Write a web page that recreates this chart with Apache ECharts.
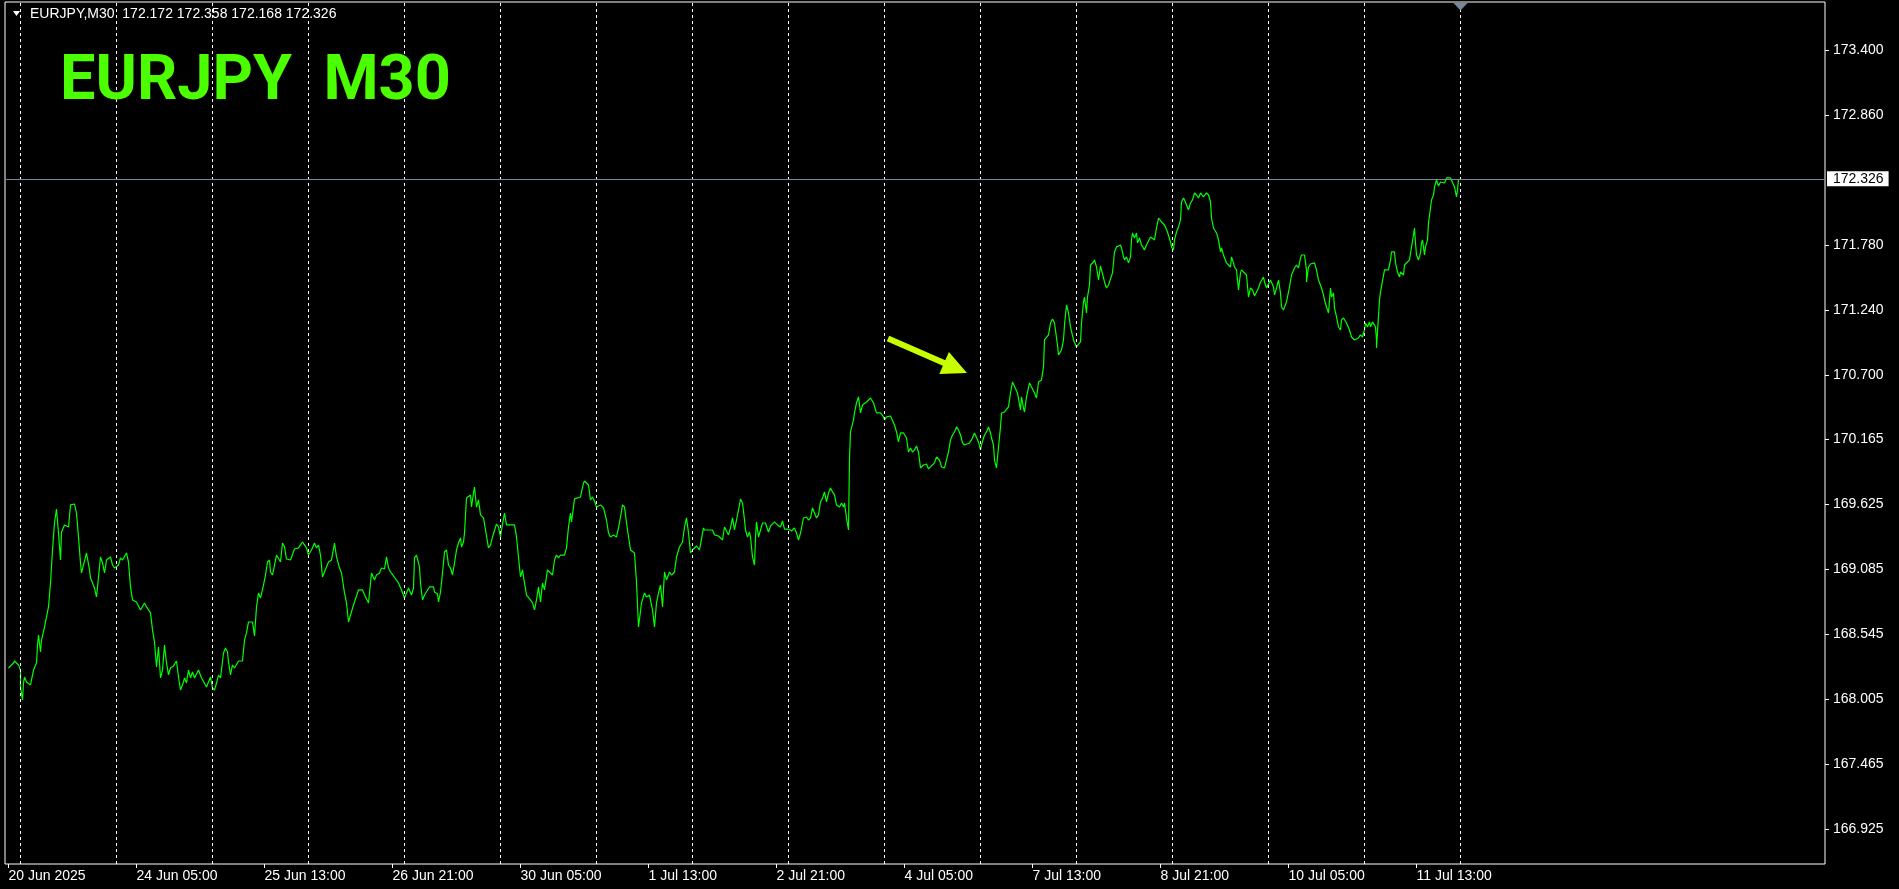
<!DOCTYPE html>
<html><head><meta charset="utf-8">
<script src="https://cdn.jsdelivr.net/npm/echarts@6/dist/echarts.min.js"></script>
<style>html,body{margin:0;padding:0;background:#000;overflow:hidden}#c{width:1899px;height:889px}</style>
</head><body><div id="c"></div>
<script>
// ---------- data ----------
const symbolName = 'EURJPY';
const timeframe = 'M30';
const lastBarOHLC = ['172.172', '172.358', '172.168', '172.326'];
const lastPrice = 172.326;

// x = M30 bar number counted from the first bar (20 Jun 2025 21:00)
const barIdx = [
0,2.5,3,5,6,6,7,7.5,8,9,
11,12.5,14,14.5,15,16,16.5,18,20,21,
22,23,24,25,26,26.5,28,29,30,31,
33,34,35,36,36.5,37.5,39,39.5,40.5,41,
42,43,44,45,46,47,48,49,51,52,
53,55,56,57,59,60,61,62,64,66,
68,69,70,71,72,73,74,75,76,77,
78,79,80,81,82.5,84,85,86,87.5,88,
89,90,91,92,93,95,96.5,99,101,102,
103,104,105,106,107.5,108.5,109.5,110,111,112,
113,115,117,118,119,120,122,123,124,125,
126,127.5,128.5,129.5,130.5,131,132,133,134,135,
136,137,138,139,141,143,145,147,149,150,
151.5,153,154,155,156,157,158,160,161.5,163,
164,165.5,166.5,168,169,170,171,172.5,173,175,
177,178.5,180,181.5,183,184,185.5,186.5,188,189,
190,191,192.5,195,196.5,198,200,201.5,202.5,203,
204,205.5,206,207,208,209,210.5,212.5,213,214.5,
215,216,217,218,219,220,221,222,223,224,
225,226,226.5,227.5,228,229,231,231.5,232.5,233,
234,235,236,237.5,238.5,240,241,242,244,245,
246,246.5,248,249,250,251.5,253,254,255,256,
257,258,259,261,262,263,264,265,266,267,
268,269.5,271,272,273,274,275,276,278,279,
280,281,281.5,282.5,283,284,286,286.5,287.5,288,
290,291,292,293,294,296,297.5,299,300,301,
302.5,304,305,306,307,308,309.5,311,313,314,
315,316,316.5,318,319,320.5,321,322,323,324,
325,326,327,328,329,330.5,331.5,333,334,335.5,
337,338,339,340,341,342,344,345.5,346.5,347.5,
348,350,352,353,355,356,357,358,359,360,
361,362,363,364,365,366,367,368,368.5,369.5,
370.5,371,372,373,373.5,374,375,376,377,378.5,
380,381,383,384.5,386,387,388,390,391.5,393,
394,395,396,397.5,399,400,401,402,403,404,
405,406,407,408,409,410,411,412,413,414,
415.5,416.5,417.5,418,419,420,420.5,421,422.5,423,
424,425,426,427,429,431,432.5,434,436,437.5,
438,439,441,442,443,444,445,446,447.5,449,
450,451,452,453,454,455,456,457.5,459,460,
461.5,463,464,465.5,466.5,468,469,470,471,472,
473,474,475,476,477,478,479,480.5,481.5,482.5,
483,484,485,486,486.5,487.5,488,489,490,491,
491.5,492.5,493,494,495,496,496.5,498,500,501,
502,503,504.5,506,506.5,507.5,508,509,510.5,511.5,
513,514,515,516.5,517.5,518,520,521,522,523,
524,524.5,525,526.5,527.5,528,529,530,531,532.5,
534,535,536,536.5,537.5,538,539,539.5,540.5,541,
542.5,543,544,545,546,546.5,548,549,550,551,
552,553,554,555,556,556.5,557.5,558,559,560,
561,561.5,562,563,564,564.5,565.5,566.5,567.5,568,
569,571,571.5,573,574,575,576.5,578,579.5,581,
581.5,582.5,583,584,585,586,586.5,587.5,588,589,
590,591,592,593,594,595,596,597.5,599,600,
601,601.5,602.5,604,605,606,606.5,607.5,608,609,
610,611,611.5,612.5,613,614,615,616,616.5,617.5,
619,620,620.5,621,622,623,625,626,626.5,627.5,
628,629,630,631,631.5,632.5,633,634,635,636,
636.5,637.5,638,639,640.5,641.5,643,644,645,646,
646.5,647.5,648,649,649,650,651,653,654,655,
656,656.5,657.5,658,659,660,661,661.5,662.5,663,
664,665,666,666.5,667.5,669,670.5,671.5,673,674,
675,676,677,678,678.5,679.5,680.5,681,682,683,
683.5,684,684,684.5,685.5,686,687,688,689,690,
691,691.5,693,693.5,694.5,695.5,696,697.5,698,699.5,
700.5,701.5,702.5,703,703.5,704,705,706,706.5,707,
708,708.5,709.5,710,711,711.5,712.5,713,714,715,
716,717,718,719,721,722,723,724,724.5,725
];
const closePx = [
168.267,168.308,168.325,168.292,168.250,168.109,168.001,168.142,168.192,168.151,
168.126,168.250,168.308,168.458,168.541,168.400,168.499,168.607,168.774,168.973,
169.247,169.471,169.587,169.388,169.164,169.396,169.455,169.471,169.438,169.621,
169.629,169.554,169.355,169.139,169.056,169.064,169.222,169.230,169.081,169.014,
169.023,168.931,168.857,169.023,169.189,169.139,169.056,169.164,169.189,169.122,
169.097,169.122,169.181,169.164,169.222,169.147,168.940,168.832,168.815,168.749,
168.807,168.774,168.790,168.724,168.583,168.483,168.275,168.441,168.184,168.250,
168.458,168.308,168.209,168.267,168.284,168.325,168.192,168.084,168.151,168.184,
168.142,168.250,168.184,168.234,168.184,168.250,168.184,168.109,168.192,168.101,
168.084,168.142,168.209,168.184,168.391,168.433,168.400,168.317,168.209,168.292,
168.267,168.325,168.325,168.499,168.558,168.649,168.649,168.533,168.774,168.890,
168.848,168.956,169.039,169.147,169.164,169.064,169.039,169.122,169.205,169.205,
169.147,169.305,169.272,169.172,169.164,169.255,169.264,169.313,169.264,169.205,
169.247,169.305,169.264,169.288,169.205,169.023,169.064,169.147,169.164,169.305,
169.189,169.097,169.056,168.890,168.807,168.649,168.707,168.790,168.774,168.915,
168.915,168.857,168.807,169.056,168.998,169.039,169.056,169.097,169.089,169.189,
169.097,169.064,169.031,168.973,168.915,168.848,168.931,168.873,168.931,169.181,
169.205,169.106,168.973,168.832,168.873,168.857,168.940,168.940,168.898,168.882,
168.815,168.898,169.056,169.230,169.247,169.122,169.097,169.039,169.139,169.247,
169.305,169.347,169.272,169.313,169.388,169.679,169.704,169.604,169.720,169.770,
169.604,169.662,169.538,169.513,169.413,169.264,169.288,169.355,169.463,169.438,
169.355,169.413,169.554,169.455,169.471,169.455,169.455,169.355,169.189,169.023,
169.081,168.973,168.873,168.832,168.807,168.749,168.832,168.940,168.815,168.973,
168.915,169.081,169.056,169.039,169.164,169.205,169.181,169.205,169.205,169.264,
169.438,169.554,169.480,169.604,169.671,169.662,169.687,169.729,169.803,169.820,
169.787,169.662,169.687,169.654,169.604,169.621,169.596,169.496,169.388,169.355,
169.372,169.355,169.430,169.521,169.621,169.604,169.413,169.247,169.222,168.981,
168.607,168.599,168.807,168.890,168.857,168.873,168.857,168.749,168.607,168.807,
168.890,168.956,168.774,169.064,168.998,169.064,169.039,169.064,169.189,169.272,
169.313,169.438,169.513,169.388,169.222,169.247,169.280,169.247,169.255,169.430,
169.413,169.413,169.413,169.372,169.363,169.355,169.330,169.438,169.446,169.372,
169.430,169.513,169.413,169.496,169.579,169.671,169.637,169.496,169.413,169.355,
169.396,169.355,169.189,169.122,169.347,169.480,169.355,169.413,169.471,169.471,
169.396,169.446,169.480,169.455,169.438,169.488,169.421,169.421,169.405,169.430,
169.388,169.330,169.388,169.513,169.521,169.496,169.513,169.596,169.604,169.513,
169.538,169.646,169.679,169.729,169.646,169.720,169.762,169.729,169.704,169.621,
169.604,169.637,169.604,169.637,169.513,169.413,170.011,170.227,170.327,170.385,
170.468,170.518,170.385,170.451,170.476,170.509,170.468,170.385,170.385,170.352,
170.327,170.352,170.360,170.368,170.285,170.227,170.144,170.219,170.219,170.177,
170.061,170.094,170.061,170.078,170.111,170.061,169.928,169.953,169.961,169.920,
169.945,169.970,170.019,169.994,169.936,169.928,169.936,170.061,170.161,170.202,
170.227,170.269,170.244,170.202,170.136,170.119,170.111,170.136,170.161,170.177,
170.219,170.227,170.144,170.078,170.119,170.177,170.202,170.227,170.269,170.219,
170.177,170.119,169.994,169.928,170.102,170.269,170.385,170.393,170.435,170.551,
170.642,170.642,170.551,170.410,170.518,170.426,170.393,170.518,170.634,170.601,
170.551,170.509,170.642,170.659,170.767,170.991,171.033,171.132,171.166,171.132,
171.008,170.950,170.867,170.908,170.991,171.116,171.282,171.215,171.099,170.991,
170.933,170.933,170.975,171.132,171.307,171.348,171.215,171.348,171.448,171.614,
171.639,171.656,171.597,171.489,171.606,171.573,171.473,171.423,171.448,171.440,
171.548,171.722,171.764,171.755,171.780,171.755,171.681,171.656,171.681,171.631,
171.681,171.822,171.880,171.838,171.880,171.797,171.838,171.780,171.764,171.739,
171.780,171.847,171.863,171.822,171.921,172.004,171.971,171.946,171.888,171.805,
171.764,171.739,171.822,171.888,171.930,171.988,172.137,172.171,172.154,172.112,
172.071,172.129,172.154,172.212,172.195,172.171,172.212,172.179,172.212,172.195,
172.137,172.004,171.921,171.880,171.822,171.722,171.755,171.697,171.681,171.631,
171.614,171.597,171.681,171.631,171.597,171.573,171.406,171.548,171.573,171.556,
171.531,171.348,171.340,171.423,171.406,171.357,171.423,171.473,171.489,171.514,
171.473,171.423,171.431,171.489,171.473,171.431,171.365,171.423,171.489,171.381,
171.265,171.240,171.265,171.307,171.431,171.531,171.589,171.614,171.589,171.672,
171.697,171.681,171.697,171.573,171.473,171.597,171.622,171.631,171.573,171.489,
171.473,171.423,171.365,171.323,171.265,171.215,171.423,171.348,171.381,171.257,
171.182,171.099,171.074,171.157,171.174,171.132,171.074,171.016,170.991,170.975,
171.008,171.033,171.016,171.074,171.132,171.099,171.141,171.099,171.141,171.157,
171.099,170.991,170.925,171.058,171.323,171.390,171.406,171.573,171.589,171.573,
171.656,171.722,171.722,171.631,171.556,171.514,171.556,171.531,171.614,171.639,
171.656,171.764,171.863,171.921,171.797,171.697,171.656,171.714,171.797,171.822,
171.697,171.764,171.822,171.963,172.087,172.154,172.195,172.262,172.320,172.270,
172.303,172.295,172.295,172.337,172.337,172.345,172.262,172.179,172.237,172.326
];

// time axis labels (bar numbers where MT4 prints them)
const xTickIdx = [0, 64, 128, 192, 256, 320, 384, 448, 512, 576, 640, 704];
const xTickLabels = ['20 Jun 2025', '24 Jun 05:00', '25 Jun 13:00', '26 Jun 21:00', '30 Jun 05:00',
  '1 Jul 13:00', '2 Jul 21:00', '4 Jul 05:00', '7 Jul 13:00', '8 Jul 21:00', '10 Jul 05:00', '11 Jul 13:00'];
// price axis labels
const yTickValues = [166.925, 167.465, 168.005, 168.545, 169.085, 169.625, 170.165, 170.700,
  171.240, 171.780, 172.860, 173.400];
// day separators (00:00 of each trading day), bar numbers
const daySepIdx = [6, 54, 102, 150, 198, 246, 294, 342, 390, 438, 486, 534, 582, 630, 678, 726];
// annotation arrow: [bar, price]
const arrowFrom = [439.75, 171.004];
const arrowTo = [479.25, 170.717];
const shiftMarkerIdx = 726;

// axis ranges (visible window)
const xMin = -1.75, xMax = 908.25;
const yMin = 166.639, yMax = 173.798;

// ---------- chart ----------
const FONT = '"Liberation Sans", Arial, sans-serif';
const chart = echarts.init(document.getElementById('c'), null, {renderer: 'canvas', width: 1899, height: 889});
const labelMap = {};
xTickIdx.forEach((v, k) => { labelMap[v] = xTickLabels[k]; });
const n = Math.min(barIdx.length, closePx.length);
const lineData = [];
for (let k = 0; k < n; k++) lineData.push([barIdx[k], closePx[k]]);

chart.setOption({
  backgroundColor: '#000000',
  animation: false,
  grid: {left: 5, top: 2, width: 1820, height: 862, show: true, borderColor: '#ffffff', borderWidth: 1,
    backgroundColor: 'transparent', containLabel: false, outerBoundsMode: 'none'},
  xAxis: {
    type: 'value', min: xMin, max: xMax, position: 'bottom',
    axisLine: {show: false, onZero: false}, splitLine: {show: false},
    axisTick: {show: true, customValues: xTickIdx, length: 4, lineStyle: {color: '#ffffff', width: 1}},
    axisLabel: {show: true, customValues: xTickIdx, formatter: v => labelMap[v] || '', color: '#ffffff',
      fontFamily: FONT, fontSize: 14, align: 'left', margin: 5, hideOverlap: false}
  },
  yAxis: {
    type: 'value', position: 'right', min: yMin, max: yMax,
    axisLine: {show: false, onZero: false}, splitLine: {show: false},
    axisTick: {show: true, customValues: yTickValues, length: 4, lineStyle: {color: '#ffffff', width: 1}},
    axisLabel: {show: true, customValues: yTickValues, formatter: v => Number(v).toFixed(3), color: '#ffffff',
      fontFamily: FONT, fontSize: 14, margin: 8, hideOverlap: false}
  },
  series: [
    {
      type: 'line', name: 'days', data: [], z: 1, silent: true,
      markLine: {silent: true, animation: false, symbol: ['none', 'none'], label: {show: false},
        lineStyle: {color: '#ffffff', type: [3, 3], width: 1},
        emphasis: {disabled: true},
        data: daySepIdx.map(v => ({xAxis: v}))}
    },
    {
      type: 'line', name: 'EURJPY', data: lineData, z: 3, showSymbol: false, symbol: 'none',
      lineStyle: {color: '#00ff00', width: 1.2}, emphasis: {disabled: true},
      markLine: {silent: true, animation: false, symbol: ['none', 'none'],
        lineStyle: {color: '#778899', type: 'solid', width: 1},
        emphasis: {disabled: true},
        label: {show: true, position: 'end', distance: 2, formatter: () => lastPrice.toFixed(3),
          backgroundColor: '#ffffff', color: '#000000', fontFamily: FONT, fontSize: 14,
          padding: [1, 5, 1, 6], lineHeight: 13},
        data: [{yAxis: lastPrice}]}
    }
  ]
});

// ---------- annotations ----------
const [sx, sy] = chart.convertToPixel({gridIndex: 0}, arrowFrom);
const [tx, ty] = chart.convertToPixel({gridIndex: 0}, arrowTo);
const dx = tx - sx, dy = ty - sy, L = Math.hypot(dx, dy);
const ux = dx / L, uy = dy / L, nx = -uy, ny = ux;
const headLen = 25, headHalf = 12, shaftHalf = 3;
const bx = tx - ux * headLen, by = ty - uy * headLen;
const arrowPts = [
  [sx + nx * shaftHalf, sy + ny * shaftHalf], [bx + nx * shaftHalf, by + ny * shaftHalf],
  [bx + nx * headHalf, by + ny * headHalf], [tx, ty],
  [bx - nx * headHalf, by - ny * headHalf], [bx - nx * shaftHalf, by - ny * shaftHalf],
  [sx - nx * shaftHalf, sy - ny * shaftHalf]
];
const shiftX = chart.convertToPixel({gridIndex: 0}, [shiftMarkerIdx, yMax])[0];

chart.setOption({
  graphic: [
    {type: 'polygon', z: 100, shape: {points: [[13, 11], [20, 11], [16.5, 16]]}, style: {fill: '#ffffff'}, silent: true},
    {type: 'text', z: 100, x: 30, y: 14.5, silent: true,
      style: {text: symbolName + ',' + timeframe + '  ' + lastBarOHLC.join(' '), font: '14px ' + FONT,
        fill: '#ffffff', textAlign: 'left', textVerticalAlign: 'middle', align: 'left', verticalAlign: 'middle'}},
    {type: 'text', z: 100, x: 60, y: 83, silent: true,
      style: {text: symbolName + '  ' + timeframe, font: 'bold 63px Roboto, "Liberation Sans", sans-serif',
        fill: '#4cff00', textAlign: 'left', textVerticalAlign: 'middle', align: 'left', verticalAlign: 'middle'}},
    {type: 'polygon', z: 100, silent: true, shape: {points: arrowPts}, style: {fill: '#c8ff00'}},
    {type: 'polygon', z: 100, silent: true, shape: {points: [[shiftX - 7, 3], [shiftX + 7, 3], [shiftX, 10.5]]},
      style: {fill: '#778899'}}
  ]
});
</script>
</body></html>
